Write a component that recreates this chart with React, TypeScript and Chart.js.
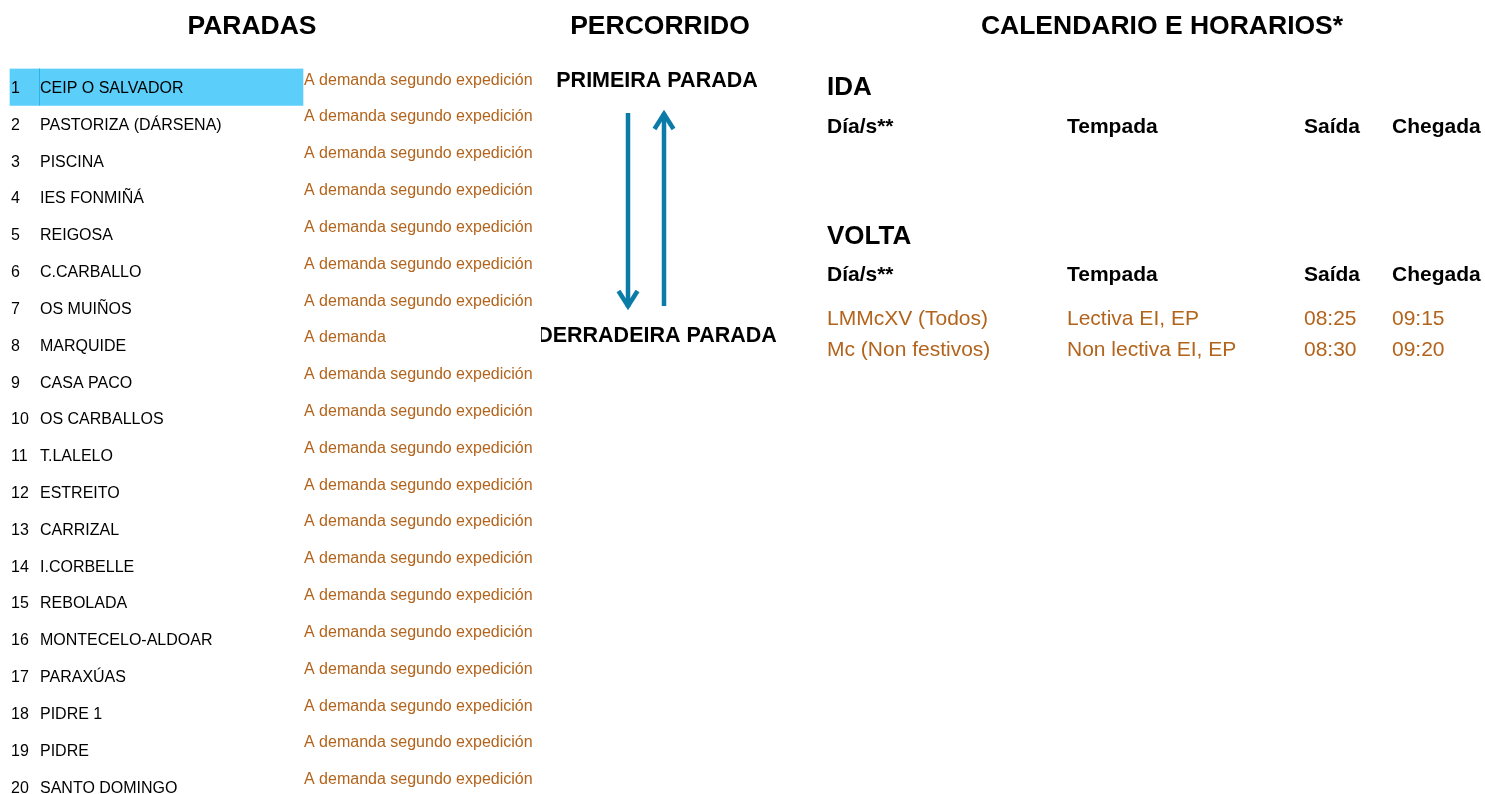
import React, { useEffect, useRef } from "react";
import { Chart, registerables } from "chart.js";

Chart.register(...registerables);

// ---------- data ----------
const STOP_NUMBERS = ["1", "2", "3", "4", "5", "6", "7", "8", "9", "10", "11", "12", "13", "14", "15", "16", "17", "18", "19", "20"];
const STOP_NAMES = [
  "CEIP O SALVADOR",
  "PASTORIZA (DÁRSENA)",
  "PISCINA",
  "IES FONMIÑÁ",
  "REIGOSA",
  "C.CARBALLO",
  "OS MUIÑOS",
  "MARQUIDE",
  "CASA PACO",
  "OS CARBALLOS",
  "T.LALELO",
  "ESTREITO",
  "CARRIZAL",
  "I.CORBELLE",
  "REBOLADA",
  "MONTECELO-ALDOAR",
  "PARAXÚAS",
  "PIDRE 1",
  "PIDRE",
  "SANTO DOMINGO",
];
const STOP_NOTES = [
  "A demanda segundo expedición",
  "A demanda segundo expedición",
  "A demanda segundo expedición",
  "A demanda segundo expedición",
  "A demanda segundo expedición",
  "A demanda segundo expedición",
  "A demanda segundo expedición",
  "A demanda",
  "A demanda segundo expedición",
  "A demanda segundo expedición",
  "A demanda segundo expedición",
  "A demanda segundo expedición",
  "A demanda segundo expedición",
  "A demanda segundo expedición",
  "A demanda segundo expedición",
  "A demanda segundo expedición",
  "A demanda segundo expedición",
  "A demanda segundo expedición",
  "A demanda segundo expedición",
  "A demanda segundo expedición",
];
const HIGHLIGHTED_STOP = 0;

const SECTION_TITLES = ["PARADAS", "PERCORRIDO", "CALENDARIO E HORARIOS*"];
const ROUTE_ENDS = ["PRIMEIRA PARADA", "DERRADEIRA PARADA"];
const DIRECTIONS = ["IDA", "VOLTA"];
const SCHEDULE_HEADERS = ["Día/s**", "Tempada", "Saída", "Chegada"];

const IDA_DAYS: string[] = [];
const IDA_SEASONS: string[] = [];
const IDA_DEPARTURES: string[] = [];
const IDA_ARRIVALS: string[] = [];

const VOLTA_DAYS = ["LMMcXV (Todos)", "Mc (Non festivos)"];
const VOLTA_SEASONS = ["Lectiva EI, EP", "Non lectiva EI, EP"];
const VOLTA_DEPARTURES = ["08:25", "08:30"];
const VOLTA_ARRIVALS = ["09:15", "09:20"];

// ---------- layout / style ----------
const W = 1485;
const H = 805;
const FONT = '"Liberation Sans", Arial, Helvetica, sans-serif';
const BLACK = "#000000";
const ORANGE = "#B3641C";
const BLUE_ARROW = "#0B7BA7";
const HIGHLIGHT = "#5BCEFA";
const HIGHLIGHT_LINE = "#2AB2EA";

const TABLE_LEFT = 10;
const TABLE_RIGHT = 303;
const NUM_X = 11;
const NAME_X = 40;
const DIVIDER_X = 39.5;
const NOTE_X = 304;

const TITLE_X = [252, 660, 1162];
const TITLE_BASE = 33.5;

const ROUTE_X = 657;
const ROUTE_BASE = [86.5, 342];
const ROUTE_CLIP_X = 541;
const DOWN_X = 628;
const UP_X = 664;
const ARROW_TOP = 111;
const ARROW_BOTTOM = 309;

const COL_X = [827, 1067, 1304, 1392];
const DIR_BASE = [94.5, 243.5];
const HEADER_BASE = [133, 281];
const ROW_BASE0 = [0, 324.5];
const ROW_STEP = 31.5;

const tablePlugin = {
  id: "tableText",
  afterDatasetsDraw(chart: any) {
    const ctx: CanvasRenderingContext2D = chart.ctx;
    const xs = chart.scales.x;
    const ys = chart.scales.y;
    const px = (v: number) => xs.getPixelForValue(v);
    const rowH = ys.getPixelForValue(1) - ys.getPixelForValue(0);

    ctx.save();
    ctx.textAlign = "left";
    ctx.textBaseline = "alphabetic";

    // divider inside highlighted row
    const meta = chart.getDatasetMeta(0);
    const bar: any = meta.data[HIGHLIGHTED_STOP];
    if (bar) {
      const p = bar.getProps(["y", "height"], true);
      ctx.strokeStyle = HIGHLIGHT_LINE;
      ctx.lineWidth = 1;
      ctx.beginPath();
      ctx.moveTo(px(DIVIDER_X), p.y - p.height / 2);
      ctx.lineTo(px(DIVIDER_X), p.y + p.height / 2);
      ctx.stroke();
    }

    // titles
    ctx.fillStyle = BLACK;
    ctx.font = `bold 26.5px ${FONT}`;
    ctx.textAlign = "center";
    SECTION_TITLES.forEach((t, i) => ctx.fillText(t, px(TITLE_X[i]), TITLE_BASE));

    // stops
    ctx.textAlign = "left";
    STOP_NAMES.forEach((name, i) => {
      const cy = ys.getPixelForValue(i);
      ctx.fillStyle = BLACK;
      ctx.font = `16px ${FONT}`;
      ctx.fillText(STOP_NUMBERS[i], px(NUM_X), cy + 6);
      ctx.fillText(name, px(NAME_X), cy + 6);
      ctx.fillStyle = ORANGE;
      const top = cy - rowH / 2;
      ctx.fillText(STOP_NOTES[i], px(NOTE_X), top + 16);
    });

    // route
    ctx.fillStyle = BLACK;
    ctx.font = `bold 21.5px ${FONT}`;
    ctx.textAlign = "center";
    ctx.fillText(ROUTE_ENDS[0], px(ROUTE_X), ROUTE_BASE[0]);
    ctx.save();
    ctx.beginPath();
    ctx.rect(px(ROUTE_CLIP_X), ROUTE_BASE[1] - 30, 400, 50);
    ctx.clip();
    ctx.fillText(ROUTE_ENDS[1], px(ROUTE_X), ROUTE_BASE[1]);
    ctx.restore();

    ctx.strokeStyle = BLUE_ARROW;
    ctx.lineWidth = 4.5;
    ctx.lineCap = "butt";
    ctx.lineJoin = "miter";
    // down arrow
    ctx.beginPath();
    ctx.moveTo(px(DOWN_X), ARROW_TOP + 2);
    ctx.lineTo(px(DOWN_X), ARROW_BOTTOM - 2);
    ctx.stroke();
    ctx.beginPath();
    ctx.moveTo(px(DOWN_X - 9.5), ARROW_BOTTOM - 18);
    ctx.lineTo(px(DOWN_X), ARROW_BOTTOM - 3);
    ctx.lineTo(px(DOWN_X + 9.5), ARROW_BOTTOM - 18);
    ctx.stroke();
    // up arrow
    ctx.beginPath();
    ctx.moveTo(px(UP_X), ARROW_BOTTOM - 3);
    ctx.lineTo(px(UP_X), ARROW_TOP + 2);
    ctx.stroke();
    ctx.beginPath();
    ctx.moveTo(px(UP_X - 9.5), ARROW_TOP + 18);
    ctx.lineTo(px(UP_X), ARROW_TOP + 3);
    ctx.lineTo(px(UP_X + 9.5), ARROW_TOP + 18);
    ctx.stroke();

    // schedule
    ctx.textAlign = "left";
    const sections = [
      [IDA_DAYS, IDA_SEASONS, IDA_DEPARTURES, IDA_ARRIVALS],
      [VOLTA_DAYS, VOLTA_SEASONS, VOLTA_DEPARTURES, VOLTA_ARRIVALS],
    ];
    DIRECTIONS.forEach((dir, s) => {
      ctx.fillStyle = BLACK;
      ctx.font = `bold 26px ${FONT}`;
      ctx.fillText(dir, px(COL_X[0]), DIR_BASE[s]);
      ctx.font = `bold 21px ${FONT}`;
      SCHEDULE_HEADERS.forEach((h, c) => ctx.fillText(h, px(COL_X[c]), HEADER_BASE[s]));
      ctx.fillStyle = ORANGE;
      ctx.font = `21px ${FONT}`;
      sections[s].forEach((col, c) => {
        col.forEach((v, r) => ctx.fillText(v, px(COL_X[c]), ROW_BASE0[s] + r * ROW_STEP));
      });
    });

    ctx.restore();
  },
};

export default function App() {
  const ref = useRef<HTMLCanvasElement | null>(null);

  useEffect(() => {
    const canvas = ref.current;
    if (!canvas) return;
    const chart = new Chart(canvas, {
      type: "bar",
      data: {
        labels: STOP_NAMES,
        datasets: [
          {
            data: STOP_NAMES.map((_, i) => (i === HIGHLIGHTED_STOP ? [TABLE_LEFT, TABLE_RIGHT] : null)) as any,
            backgroundColor: HIGHLIGHT,
            borderWidth: 0,
            barPercentage: 1,
            categoryPercentage: 1,
          },
        ],
      },
      options: {
        indexAxis: "y",
        responsive: false,
        maintainAspectRatio: false,
        animation: false,
        layout: { padding: { top: 68.6, left: 0, right: 0, bottom: 0 } },
        plugins: { legend: { display: false }, tooltip: { enabled: false } },
        scales: {
          x: { type: "linear", min: 0, max: W, display: false },
          y: { type: "category", display: false, offset: true },
        },
      },
      plugins: [tablePlugin],
    });
    return () => chart.destroy();
  }, []);

  return (
    <div
      style={{
        position: "fixed",
        left: 0,
        top: 0,
        width: W,
        height: 794,
        overflow: "hidden",
        background: "#ffffff",
      }}
    >
      <canvas ref={ref} width={W} height={H} style={{ display: "block", width: W, height: H }} />
    </div>
  );
}
